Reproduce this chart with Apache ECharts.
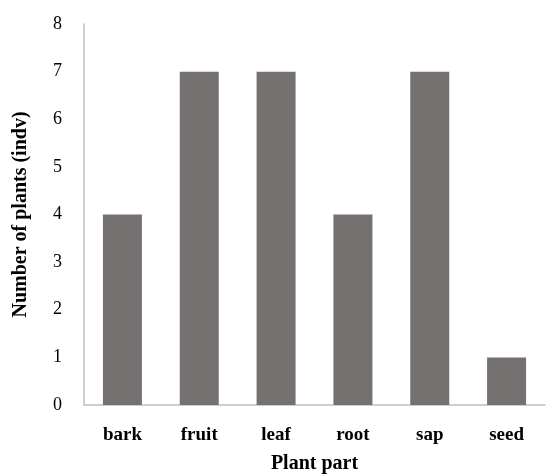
<!DOCTYPE html>
<html><head><meta charset="utf-8">
<script src="https://cdn.jsdelivr.net/npm/echarts@6/dist/echarts.min.js"></script>
<style>html,body{margin:0;padding:0;background:#fff}#c{width:546px;height:476px}</style>
</head><body><div id="c"></div>
<script>
const categories = ["bark", "fruit", "leaf", "root", "sap", "seed"];
const plantCounts = [4, 7, 7, 4, 7, 1];
const yTicks = [0, 1, 2, 3, 4, 5, 6, 7, 8];
const font = "'Liberation Serif', 'DejaVu Serif', serif";
const chart = echarts.init(document.getElementById('c'));
chart.setOption({
  animation: false,
  grid: { left: 84, right: 1, top: 24, bottom: 71, containLabel: false, outerBoundsMode: 'none' },
  xAxis: {
    type: 'category', data: categories,
    name: 'Plant part', nameLocation: 'middle', nameGap: 49,
    nameTextStyle: { fontFamily: font, fontSize: 20, fontWeight: 'bold', color: '#000' },
    axisLine: { lineStyle: { color: '#bfbfbf', width: 1.5 } },
    axisTick: { show: false },
    axisLabel: { fontFamily: font, fontSize: 19, fontWeight: 'bold', color: '#000', margin: 21 }
  },
  yAxis: {
    type: 'value', min: yTicks[0], max: yTicks[yTicks.length - 1], interval: 1,
    name: 'Number of plants (indv)', nameLocation: 'middle', nameGap: 53, nameRotate: 90,
    nameTextStyle: { fontFamily: font, fontSize: 20, fontWeight: 'bold', color: '#000' },
    axisLine: { show: true, lineStyle: { color: '#bfbfbf', width: 1.5 } },
    axisTick: { show: false },
    splitLine: { show: false },
    axisLabel: { fontFamily: font, fontSize: 18, color: '#000', margin: 22 }
  },
  series: [{
    type: 'bar', data: plantCounts, barWidth: 39,
    itemStyle: { color: '#767171' }
  }]
});
</script></body></html>
